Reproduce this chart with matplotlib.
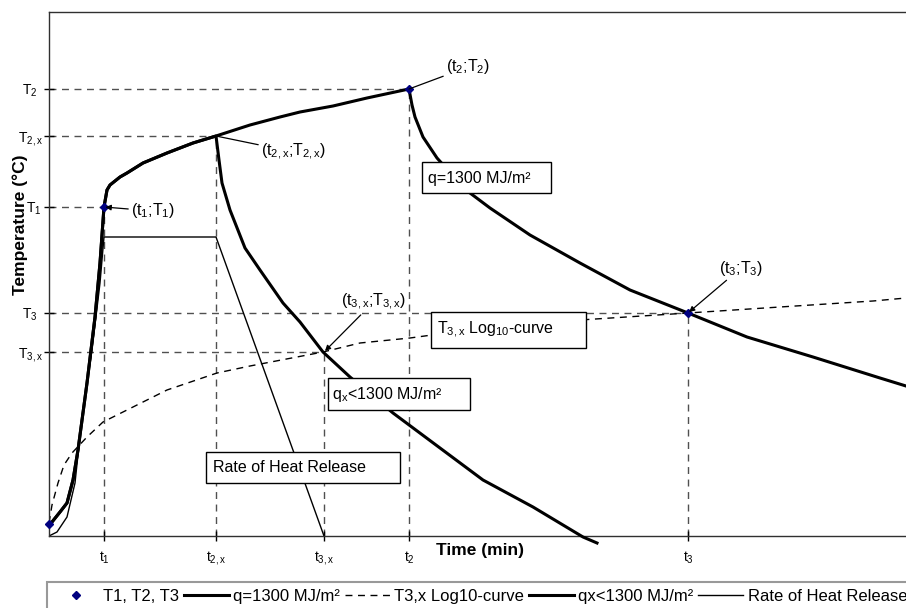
import matplotlib
matplotlib.use("Agg")
import matplotlib.pyplot as plt
from matplotlib.patches import Rectangle

plt.rcParams['font.family'] = ['Liberation Sans', 'DejaVu Sans']
plt.rcParams['mathtext.fontset'] = 'custom'
plt.rcParams['mathtext.rm'] = 'Liberation Sans'
plt.rcParams['mathtext.it'] = 'Liberation Sans:italic'
plt.rcParams['mathtext.bf'] = 'Liberation Sans:bold'

# ---------------- data (arbitrary time / temperature units) ----------------
t_ticks = [55, 167, 275, 360, 639]
t_labels = ['t$_{1}$', 't$_{\\mathrm{2,x}}$', 't$_{\\mathrm{3,x}}$', 't$_{2}$', 't$_{3}$']
T_ticks = [447, 400, 329, 223, 184]
T_labels = ['T$_{2}$  ', 'T$_{\\mathrm{2,x}}$', 'T$_{1}$ ', 'T$_{3}$  ', 'T$_{\\mathrm{3,x}}$']

# key points (t1;T1) ... markers
pts_t = [0, 55, 360, 639]
pts_T = [12, 329, 447, 223]

# q = 1300 MJ/m2 curve (heating + cooling)
q_t = [0, 3, 11, 18, 24, 29, 38, 46, 51, 55, 58, 61, 71, 78, 94, 118, 144, 167,
       201, 231, 251, 284, 318, 360,
       363, 366, 374, 388, 406, 421, 441, 481, 531, 581, 639, 698, 764, 831, 857]
q_T = [12, 14, 24, 33, 56, 86, 153, 219, 273, 329, 346, 351, 359, 363, 373, 383, 393, 400,
       411, 419, 424, 430, 438, 447,
       431, 419, 399, 378, 358, 343, 328, 301, 273, 246, 223, 199, 179, 158, 150]

# qx < 1300 MJ/m2 curve
qx_t = [0, 3, 11, 18, 24, 29, 38, 46, 51, 55, 58, 61, 71, 78, 94, 118, 144, 167,
        170, 173, 181, 196, 211, 234, 251, 274, 301, 344, 391, 434, 484, 534, 548]
qx_T = [12, 14, 24, 33, 56, 86, 153, 219, 273, 329, 346, 351, 359, 363, 373, 383, 393, 400,
        376, 353, 326, 288, 266, 233, 214, 184, 159, 123, 88, 56, 29, -1, -7]

# T3,x Log10-curve
log_t = [0, 3, 9, 15, 23, 38, 54, 84, 118, 168, 201, 274, 311, 361, 383, 451, 531, 639,
         731, 824, 857]
log_T = [13, 31, 53, 71, 83, 99, 114, 129, 146, 163, 170, 184, 193, 198, 201, 208, 216, 223,
         229, 235, 238]

# Rate of heat release
rhr_t = [0, 8, 18, 26, 33, 43, 51, 55, 167, 275]
rhr_T = [0, 4, 19, 53, 119, 186, 253, 299, 299, 0]

# ---------------- figure ----------------
W, H = 906, 608
fig = plt.figure(figsize=(W / 100, H / 100), dpi=100)
ax = fig.add_axes([49 / W, (H - 536) / H, (W - 49) / W, (536 - 12) / H])
ax.set_xlim(0, 857)
ax.set_ylim(0, 524)

dash_col = '#505050'
dash_style = (0, (5, 4))
# reference dashed lines
for t, T in zip([55, 167, 275, 360, 639], [329, 400, 184, 447, 223]):
    ax.plot([t, t], [0, T], color=dash_col, lw=1.0, linestyle=dash_style, zorder=1)
    ax.plot([0, t], [T, T], color=dash_col, lw=1.0, linestyle=dash_style, zorder=1)

l_log, = ax.plot(log_t, log_T, color='black', lw=1.0, linestyle=dash_style, zorder=2,
                 label='T3,x Log10-curve')
l_rhr, = ax.plot(rhr_t, rhr_T, color='black', lw=1.0, zorder=2, label='Rate of Heat Release')
l_qx, = ax.plot(qx_t, qx_T, color='black', lw=2.2, zorder=3, clip_on=False,
                label='qx<1300 MJ/m²')
l_q, = ax.plot(q_t, q_T, color='black', lw=2.2, zorder=3, label='q=1300 MJ/m²')
l_pts, = ax.plot(pts_t, pts_T, linestyle='none', marker='D', markersize=4.5,
                 color='#000080', zorder=5, clip_on=False, label='T1, T2, T3')

FS = 11.5
# text boxes
boxes = [
    (373, 343, 129, 31, 379, 358, 'q=1300 MJ/m²'),
    (382, 188, 155, 36, 388, 206, 'T$_{\\mathrm{3,x}}$ Log$_{10}$-curve'),
    (279, 126, 142, 32, 283, 141, 'q$_{\\mathrm{x}}$<1300 MJ/m²'),
    (157, 53, 194, 31, 164, 68, 'Rate of Heat Release'),
]
for x0, y0, w, h, tx, ty, s in boxes:
    ax.add_patch(Rectangle((x0, y0), w, h, facecolor='white', edgecolor='black',
                           lw=1.0, zorder=6))
    ax.text(tx, ty, s, fontsize=FS, va='center', ha='left', zorder=7)

# annotations
ann = [
    ('(t$_{1}$;T$_{1}$)', (55, 329), (82, 325), True),
    ('(t$_{\\mathrm{2,x}}$;T$_{\\mathrm{2,x}}$)', (167, 400), (212, 384), False),
    ('(t$_{2}$;T$_{2}$)', (360, 447), (397, 469), False),
    ('(t$_{\\mathrm{3,x}}$;T$_{\\mathrm{3,x}}$)', (275, 184), (292, 234), True),
    ('(t$_{3}$;T$_{3}$)', (639, 223), (670, 268), True),
]
for s, xy, xyt, arrow in ann:
    props = dict(arrowstyle='-|>', color='black', lw=0.9, mutation_scale=8,
                 shrinkA=0, shrinkB=1) if arrow else \
        dict(arrowstyle='-', color='black', lw=0.9, shrinkA=0, shrinkB=0)
    ax.annotate(s, xy=xy, xytext=xyt, fontsize=FS, ha='left', va='center',
                arrowprops=props, zorder=6)

# axes styling
ax.set_xticks(t_ticks)
ax.set_xticklabels(t_labels)
ax.set_yticks(T_ticks)
ax.set_yticklabels(T_labels)
ax.tick_params(axis='both', direction='inout', length=7, width=1.0, labelsize=10,
               color='black')
ax.tick_params(axis='x', pad=6)
ax.tick_params(axis='y', pad=1)
for side in ['left', 'bottom', 'top']:
    ax.spines[side].set_color('#303030')
    ax.spines[side].set_linewidth(1.0)
ax.spines['right'].set_visible(False)

fig.text(480 / W, 1 - 551 / H, 'Time (min)', fontsize=12.5, fontweight='bold',
         ha='center', va='center')
fig.text(20 / W, 1 - 225 / H, 'Temperature (°C)', fontsize=12.5, fontweight='bold',
         ha='center', va='center', rotation=90)

leg = fig.legend(handles=[l_pts, l_q, l_log, l_qx, l_rhr], loc='upper left',
                 bbox_to_anchor=(47 / W, 1 - 582 / H), ncol=5, fontsize=12,
                 frameon=True, fancybox=False, handlelength=2.7, handletextpad=0.25,
                 columnspacing=0.3, borderpad=0.4, borderaxespad=0)
leg.get_frame().set_edgecolor('#808080')
leg.get_frame().set_linewidth(1.5)

fig.savefig('out.png', dpi=100)
